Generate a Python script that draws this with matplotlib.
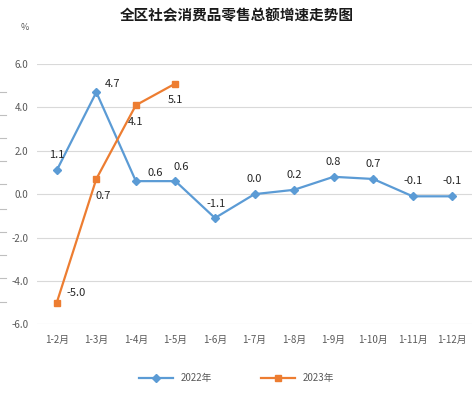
import numpy as np
import matplotlib.pyplot as plt
from matplotlib.lines import Line2D

plt.rcParams['font.family'] = ['Noto Sans CJK SC', 'DejaVu Sans']

# 数据
months = ['1-2月', '1-3月', '1-4月', '1-5月', '1-6月', '1-7月', '1-8月',
          '1-9月', '1-10月', '1-11月', '1-12月']
v2022 = [1.1, 4.7, 0.6, 0.6, -1.1, 0.0, 0.2, 0.8, 0.7, -0.1, -0.1]
v2023 = [-5.0, 0.7, 4.1, 5.1]
yticks = [-6.0, -4.0, -2.0, 0.0, 2.0, 4.0, 6.0]

# 标签偏移 (点)
off2022 = [(0, 11), (12, 6), (14, 6), (4, 10), (1, 10), (0, 11), (0, 11),
           (0, 11), (0, 11), (0, 11), (0, 11)]
off2023 = [(14, 7), (5, -12), (0, -12), (0, -12)]

blue = '#5B9BD5'
orange = '#ED7D31'

fig = plt.figure(figsize=(4.73, 3.95), dpi=100)
ax = fig.add_axes([37 / 473, 1 - 324.3 / 395, 435 / 473, (324.3 - 64) / 395])

x = np.arange(len(months))
ax.plot(x, v2022, color=blue, marker='D', markersize=4, lw=1.6, label='2022年')
ax.plot(x[:len(v2023)], v2023, color=orange, marker='s', markersize=5, lw=1.6, label='2023年')

for i, v in enumerate(v2022):
    ax.annotate(f'{v:.1f}', (x[i], v), xytext=off2022[i], textcoords='offset points',
                ha='center', va='center', fontsize=8, color='#262626')
for i, v in enumerate(v2023):
    ax.annotate(f'{v:.1f}', (x[i], v), xytext=off2023[i], textcoords='offset points',
                ha='center', va='center', fontsize=8, color='#262626')

ax.set_xlim(-0.5, len(months) - 0.5)
ax.set_ylim(-6, 6)
ax.set_yticks(yticks)
ax.set_yticklabels([f'{t:.1f}' for t in yticks])
ax.set_xticks(x)
ax.set_xticklabels(months)
ax.tick_params(axis='both', length=0, labelsize=7, labelcolor='#595959')
ax.tick_params(axis='x', pad=8)
ax.tick_params(axis='y', pad=6)
ax.grid(axis='y', color='#D9D9D9', lw=0.8)
ax.set_axisbelow(True)
for s in ax.spines.values():
    s.set_visible(False)

fig.text(0.5, 1 - 15 / 395, '全区社会消费品零售总额增速走势图', ha='center', va='center',
         fontsize=10.5, fontweight='bold', color='#1a1a1a')
fig.text(25 / 473, 1 - 28 / 395, '%', ha='center', va='center', fontsize=6.5, color='#595959')

# 左侧的短刻度线
for yy in [92, 115, 138, 161, 184, 209, 232, 255, 278, 302]:
    fig.add_artist(Line2D([0, 6 / 473], [1 - yy / 395] * 2, color='#BFBFBF', lw=0.8))

fig.legend(loc='center', bbox_to_anchor=(0.5, 1 - 378 / 395), ncol=2, frameon=False,
           fontsize=7, labelcolor='#595959', handlelength=3.5, columnspacing=5)

fig.savefig('out.png', dpi=100)
